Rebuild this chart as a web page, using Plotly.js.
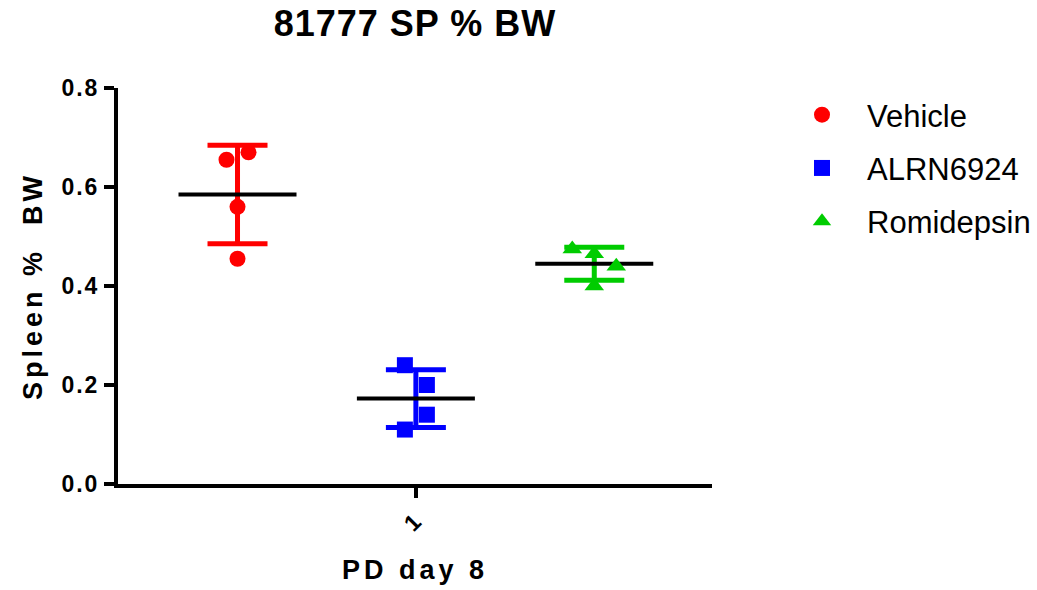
<!DOCTYPE html>
<html>
<head>
<meta charset="utf-8">
<script src="https://cdn.plot.ly/plotly-3.0.1.min.js"></script>
<style>
  html, body { margin: 0; padding: 0; background: #fff; }
  #chart { width: 1037px; height: 590px; }
  .gtitle { letter-spacing: 1px; }
  .xtitle, .ytitle { letter-spacing: 4px; }
  .ytick text, .xtick text { letter-spacing: 2px; }
</style>
</head>
<body>
<div id="chart"></div>
<script>
// ---- data ----
const chartTitle = '81777 SP % BW';
const groupNames = ['Vehicle', 'ALRN6924', 'Romidepsin'];
const vehicle = [0.655, 0.67, 0.56, 0.455];
const alrn6924 = [0.24, 0.20, 0.11, 0.14];
const romidepsin = [0.40, 0.44, 0.465, 0.475];
const xTickLabels = ['1'];
const xAxisTitle = 'PD day 8';
const yAxisTitle = 'Spleen %  BW';

// ---- style ----
const seriesValues = [vehicle, alrn6924, romidepsin];
const colors = ['#ff0000', '#0000ff', '#00cc00'];
const symbols = ['circle', 'square', 'triangle-up'];
const markerSizes = [16, 16, 17];
const FONT = 'Arial, "Liberation Sans", Helvetica, sans-serif';

const W = 1037, H = 590;
const margin = {l: 118, r: 325, t: 88, b: 106, pad: 0};
const xRange = [0.33, 3.66];
const yRange = [0, 0.8];
const plotW = W - margin.l - margin.r;
const plotH = H - margin.t - margin.b;
const xScale = plotW / (xRange[1] - xRange[0]);
const yScale = plotH / (yRange[1] - yRange[0]);

const groupPos = groupNames.map((_, i) => i + 1);
const tickPos = [groupPos.reduce((a, b) => a + b, 0) / groupPos.length];

function mean(a) { return a.reduce((s, v) => s + v, 0) / a.length; }
function sd(a) {
  const m = mean(a);
  return Math.sqrt(a.reduce((s, v) => s + (v - m) * (v - m), 0) / (a.length - 1));
}

// deterministic column-scatter spread (in pixels), centred per cluster
function swarm(vals) {
  const T = 20, d = 22;
  const ys = vals.map(v => v * yScale);
  const placed = [];
  const offs = [];
  ys.forEach((y, i) => {
    for (const k of [0, 1, -1, 2, -2, 3, -3]) {
      const ox = k * d;
      if (placed.every(p => Math.hypot(p.x - ox, p.y - y) >= T)) {
        placed.push({x: ox, y: y});
        offs[i] = ox;
        break;
      }
    }
  });
  const order = ys.map((y, i) => i).sort((a, b) => ys[a] - ys[b]);
  let cluster = [order[0]];
  const flush = () => {
    const m = mean(cluster.map(i => offs[i]));
    cluster.forEach(i => { offs[i] -= m; });
  };
  for (let j = 1; j < order.length; j++) {
    if (ys[order[j]] - ys[order[j - 1]] < T) cluster.push(order[j]);
    else { flush(); cluster = [order[j]]; }
  }
  flush();
  return offs.map(o => o / xScale);
}

const traces = [];
// mean + SD
seriesValues.forEach((vals, i) => {
  traces.push({
    type: 'scatter', mode: 'markers',
    x: [groupPos[i]], y: [mean(vals)],
    marker: {size: 1, color: 'rgba(0,0,0,0)'},
    error_y: {type: 'data', array: [sd(vals)], visible: true, color: colors[i], thickness: 5, width: 30},
    error_x: {type: 'data', array: [59 / xScale], visible: true, color: '#000000', thickness: 4, width: 0},
    showlegend: false, hoverinfo: 'skip'
  });
});
// points
seriesValues.forEach((vals, i) => {
  const offs = swarm(vals);
  traces.push({
    type: 'scatter', mode: 'markers', name: groupNames[i],
    legendgroup: 'g' + i,
    x: vals.map((v, j) => groupPos[i] + offs[j]),
    y: vals,
    marker: {symbol: symbols[i], size: markerSizes[i], color: colors[i], line: {width: 0}}
  });
});

const layout = {
  width: W, height: H,
  margin: margin,
  paper_bgcolor: '#ffffff', plot_bgcolor: '#ffffff',
  font: {family: FONT, color: '#000000'},
  title: {
    text: chartTitle,
    font: {family: FONT, size: 36, weight: 'bold', color: '#000000'},
    x: 0.5, xref: 'paper', xanchor: 'center',
    y: 0.96, yref: 'container', yanchor: 'middle'
  },
  xaxis: {
    range: xRange, tickvals: tickPos, ticktext: xTickLabels, tickangle: -45,
    ticks: 'outside', ticklen: 10, tickwidth: 4, tickcolor: '#000000',
    showline: true, linewidth: 4, linecolor: '#000000',
    showgrid: false, zeroline: false,
    tickfont: {family: FONT, size: 23, weight: 'bold', color: '#000000'},
    title: {text: xAxisTitle, standoff: 26, font: {family: FONT, size: 27, weight: 'bold', color: '#000000'}}
  },
  yaxis: {
    range: yRange, dtick: 0.2, tick0: 0, tickformat: '.1f',
    ticks: 'outside', ticklen: 10, tickwidth: 4, tickcolor: '#000000',
    showline: true, linewidth: 4, linecolor: '#000000',
    showgrid: false, zeroline: false,
    tickfont: {family: FONT, size: 23, weight: 'bold', color: '#000000'},
    title: {text: yAxisTitle, standoff: 12, font: {family: FONT, size: 27, weight: 'bold', color: '#000000'}}
  },
  legend: {
    xref: 'container', yref: 'container',
    x: 777 / W, xanchor: 'left',
    y: 1 - 88 / H, yanchor: 'top',
    font: {family: FONT, size: 31, color: '#000000'},
    itemwidth: 80, tracegroupgap: 10,
    bgcolor: 'rgba(0,0,0,0)', borderwidth: 0
  },
  showlegend: true
};

Plotly.newPlot('chart', traces, layout, {staticPlot: true, displayModeBar: false});
</script>
</body>
</html>
